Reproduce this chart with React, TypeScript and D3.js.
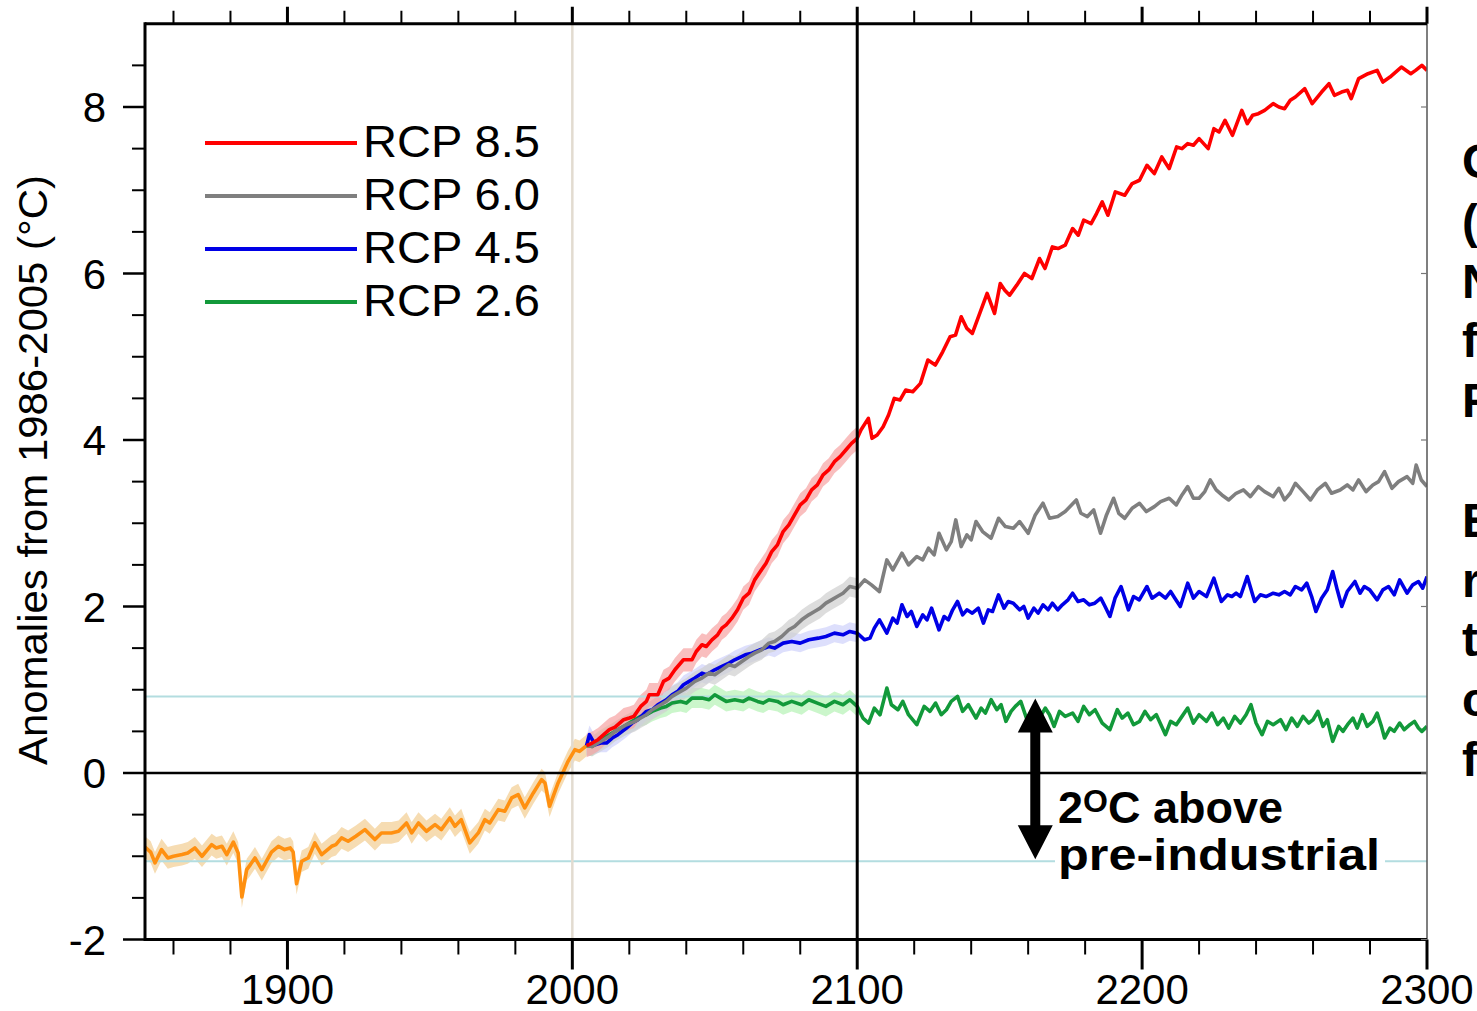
import React from "react";
import * as d3 from "d3";

type Pt = [number, number];

const historical: Pt[] = [
  [1850, -0.89], [1852, -0.95], [1853.5, -1.08], [1855.8, -0.92], [1858, -1.02], [1860, -1.0], [1863, -0.98],
  [1865, -0.96], [1867.5, -0.9], [1870, -1.0], [1873.4, -0.86], [1875, -0.9], [1877, -0.88], [1878.7, -0.98],
  [1881, -0.83], [1882.7, -0.96], [1884, -1.49], [1885.7, -1.16], [1887, -1.1], [1888.6, -1.02], [1891, -1.16],
  [1894.4, -0.95], [1896.8, -0.88], [1899, -0.92], [1901, -0.9], [1902, -0.95], [1903.2, -1.33], [1905, -1.06],
  [1907.3, -1.02], [1909.6, -0.84], [1912, -0.98], [1915.5, -0.88], [1917, -0.86], [1919, -0.78], [1921.3, -0.82],
  [1924, -0.76], [1927.2, -0.68], [1930.7, -0.8], [1933, -0.72], [1936.5, -0.72], [1939, -0.7], [1941.8, -0.6],
  [1943.6, -0.72], [1946, -0.6], [1948.8, -0.7], [1951.8, -0.62], [1954, -0.68], [1957, -0.54], [1958.8, -0.64],
  [1961, -0.56], [1964, -0.84], [1967, -0.72], [1969.3, -0.56], [1971, -0.6], [1974, -0.44], [1976.3, -0.46],
  [1978.7, -0.3], [1981, -0.26], [1983.3, -0.42], [1986.3, -0.24], [1989.2, -0.08], [1990.4, -0.12], [1992, -0.4],
  [1995, -0.12], [1998.5, 0.14], [2000.9, 0.28], [2002.5, 0.26], [2005, 0.33],
];

const rcp85: Pt[] = [
  [2005, 0.33], [2007, 0.36], [2009, 0.4], [2011, 0.46], [2013, 0.52], [2015, 0.55], [2018, 0.64], [2020, 0.66],
  [2021.6, 0.68], [2024, 0.8], [2026, 0.86], [2027, 0.94], [2030, 0.94], [2032, 1.1], [2034, 1.14], [2036, 1.24],
  [2039, 1.36], [2042, 1.36], [2043.5, 1.46], [2045.5, 1.54], [2047, 1.52], [2049, 1.6], [2051, 1.66], [2052.5, 1.74],
  [2054, 1.78], [2056, 1.86], [2058, 1.96], [2060, 2.1], [2062, 2.16], [2064, 2.32], [2066, 2.42], [2068, 2.52],
  [2070, 2.66], [2072, 2.74], [2074, 2.9], [2076, 2.98], [2078, 3.1], [2080, 3.22], [2082, 3.28], [2084, 3.4],
  [2086, 3.46], [2088, 3.58], [2090, 3.64], [2092, 3.74], [2094, 3.8], [2096, 3.88], [2098, 3.96], [2100, 4.02],
  [2101.3, 4.12], [2103.9, 4.26], [2105.2, 4.02], [2107, 4.06], [2109.1, 4.16], [2111, 4.3], [2113, 4.5], [2115, 4.48],
  [2117, 4.6], [2119.5, 4.58], [2122.2, 4.68], [2124.8, 4.96], [2127.4, 4.9], [2130, 5.06], [2132.6, 5.24],
  [2134.5, 5.26], [2136.5, 5.48], [2138.5, 5.34], [2140.4, 5.28], [2143, 5.52], [2145.6, 5.76], [2148.2, 5.52],
  [2150.2, 5.88], [2151.8, 5.8], [2153.5, 5.74], [2156, 5.86], [2158.7, 6.0], [2161.3, 5.94], [2164, 6.18],
  [2165.9, 6.06], [2168.5, 6.32], [2170.5, 6.3], [2173, 6.34], [2175.6, 6.54], [2177.6, 6.46], [2179.5, 6.64],
  [2182.1, 6.6], [2184, 6.72], [2186, 6.86], [2188, 6.7], [2190.6, 6.98], [2193.9, 6.94], [2196.5, 7.08],
  [2199.1, 7.12], [2201.7, 7.3], [2204.3, 7.2], [2206.9, 7.4], [2209.5, 7.26], [2212.1, 7.52], [2214, 7.5],
  [2216, 7.56], [2218, 7.54], [2220, 7.62], [2223.2, 7.5], [2225.2, 7.74], [2227, 7.7], [2229.1, 7.84],
  [2231.7, 7.66], [2235, 7.96], [2236.9, 7.8], [2238.8, 7.9], [2240.8, 7.92], [2243, 7.96], [2246, 8.04],
  [2248, 8.0], [2250, 7.98], [2252, 8.08], [2253.8, 8.12], [2257.1, 8.22], [2259.7, 8.04], [2263, 8.18],
  [2265.6, 8.28], [2267.5, 8.14], [2270, 8.18], [2272.1, 8.2], [2273.4, 8.1], [2276, 8.34], [2279.3, 8.4],
  [2282.5, 8.44], [2284.5, 8.3], [2287, 8.36], [2289, 8.42], [2291, 8.48], [2294.3, 8.4], [2296, 8.44],
  [2298.2, 8.5], [2300, 8.44],
];

const rcp60: Pt[] = [
  [2005, 0.33], [2007, 0.32], [2009, 0.36], [2011, 0.4], [2013, 0.44], [2015, 0.5], [2017, 0.54], [2019, 0.58],
  [2022, 0.62], [2024, 0.66], [2026, 0.7], [2028, 0.76], [2031, 0.82], [2033, 0.86], [2035, 0.92], [2038, 0.98],
  [2040, 1.02], [2043, 1.1], [2045.5, 1.14], [2048, 1.2], [2050, 1.18], [2052.5, 1.24], [2055, 1.3], [2057, 1.28],
  [2059.5, 1.34], [2062, 1.4], [2064, 1.44], [2066.5, 1.48], [2069, 1.56], [2071, 1.58], [2073.5, 1.64],
  [2076, 1.72], [2078, 1.76], [2080.5, 1.84], [2083, 1.9], [2085, 1.94], [2087, 1.98], [2089, 2.04], [2091, 2.08],
  [2093, 2.12], [2095, 2.16], [2097.4, 2.24], [2100, 2.22], [2102.6, 2.32], [2105, 2.26], [2107.8, 2.18],
  [2110.4, 2.56], [2112.5, 2.44], [2115.7, 2.64], [2118, 2.5], [2120.9, 2.6], [2123, 2.56], [2125, 2.7],
  [2127, 2.62], [2128.7, 2.88], [2131.3, 2.68], [2133, 2.78], [2134.6, 3.04], [2136.5, 2.72], [2138.5, 2.86],
  [2140, 2.8], [2141.7, 3.02], [2144, 2.9], [2147, 2.82], [2149.6, 3.06], [2152, 2.96], [2154.8, 2.94],
  [2157, 3.02], [2160, 2.88], [2162.5, 3.1], [2165.2, 3.24], [2167.5, 3.06], [2170.4, 3.08], [2173, 3.14],
  [2176.9, 3.28], [2178.5, 3.12], [2180.8, 3.08], [2183, 3.16], [2185.4, 2.88], [2187.5, 3.1], [2190, 3.3],
  [2191.8, 3.12], [2193.9, 3.06], [2196.5, 3.18], [2199.1, 3.24], [2201.5, 3.14], [2204.3, 3.2], [2206.5, 3.26],
  [2209.5, 3.3], [2212, 3.22], [2214, 3.34], [2216, 3.44], [2218, 3.3], [2220, 3.3], [2222, 3.38], [2223.9, 3.52],
  [2226, 3.4], [2228, 3.34], [2230.4, 3.28], [2233, 3.36], [2235.6, 3.4], [2238, 3.32], [2240.8, 3.44],
  [2243, 3.38], [2246, 3.32], [2248, 3.42], [2250, 3.28], [2252, 3.36], [2253.8, 3.48], [2256.5, 3.38],
  [2259.1, 3.28], [2261.5, 3.4], [2264.3, 3.48], [2266.5, 3.36], [2269.5, 3.4], [2272, 3.46], [2274, 3.4],
  [2276, 3.52], [2278.6, 3.38], [2281, 3.46], [2283, 3.5], [2285.1, 3.62], [2287.7, 3.42], [2290, 3.5],
  [2293, 3.56], [2295, 3.48], [2296.2, 3.7], [2298, 3.52], [2300, 3.44],
];

const rcp45: Pt[] = [
  [2005, 0.33], [2006, 0.46], [2008, 0.34], [2010, 0.36], [2012, 0.36], [2014, 0.42], [2016, 0.46], [2019, 0.54],
  [2021, 0.6], [2023, 0.64], [2026, 0.74], [2028, 0.76], [2030, 0.82], [2033, 0.88], [2035, 0.94], [2037, 0.98],
  [2039, 1.06], [2041, 1.1], [2043, 1.14], [2045.5, 1.2], [2047, 1.18], [2050, 1.24], [2052.5, 1.28], [2055, 1.32],
  [2057, 1.36], [2060.7, 1.42], [2063, 1.44], [2066, 1.48], [2069, 1.52], [2071, 1.5], [2074, 1.56], [2077, 1.58],
  [2080, 1.56], [2083, 1.6], [2086.3, 1.62], [2089, 1.64], [2092, 1.68], [2095, 1.66], [2097.4, 1.7], [2100, 1.68],
  [2102.6, 1.6], [2104.5, 1.62], [2106, 1.74], [2107.8, 1.84], [2110.4, 1.68], [2112.5, 1.86], [2114, 1.8],
  [2115.7, 2.02], [2117.5, 1.88], [2119, 1.94], [2120.9, 1.76], [2123, 1.9], [2124.5, 1.84], [2126.1, 1.98],
  [2128.7, 1.72], [2130.5, 1.88], [2132, 1.84], [2133.5, 1.96], [2135.2, 2.06], [2137, 1.9], [2138.5, 1.96],
  [2140.4, 1.92], [2142.5, 1.98], [2144.3, 1.8], [2146, 1.96], [2147.5, 1.94], [2149.6, 2.14], [2151.5, 1.98],
  [2153, 2.06], [2154.8, 2.04], [2157, 1.96], [2158.5, 2.0], [2160, 1.86], [2162, 1.98], [2163.5, 1.92],
  [2165.2, 2.02], [2167, 1.96], [2168.5, 2.04], [2170.4, 1.96], [2172, 2.02], [2174, 2.08], [2175.6, 2.16],
  [2177.5, 2.06], [2179.5, 2.08], [2181.5, 2.02], [2183.4, 2.04], [2185.5, 2.1], [2187, 2.0], [2188.7, 1.88],
  [2190.5, 2.1], [2192.6, 2.24], [2195.2, 1.96], [2197, 2.12], [2199, 2.08], [2201.7, 2.24], [2203.5, 2.1],
  [2206, 2.16], [2208.2, 2.1], [2210, 2.18], [2211.5, 2.1], [2213.4, 2.0], [2216, 2.28], [2218, 2.1], [2220, 2.18],
  [2222.6, 2.12], [2225.2, 2.34], [2227.8, 2.06], [2230, 2.14], [2231.5, 2.12], [2233, 2.16], [2234.5, 2.12],
  [2236.9, 2.36], [2239.5, 2.06], [2241.5, 2.14], [2243.5, 2.12], [2246, 2.16], [2248, 2.14], [2250, 2.18],
  [2252, 2.14], [2253.8, 2.24], [2256, 2.2], [2257.8, 2.28], [2259.5, 2.12], [2261, 1.94], [2263, 2.1],
  [2265, 2.2], [2266.9, 2.42], [2268.5, 2.2], [2270.1, 2.0], [2272, 2.18], [2274.7, 2.3], [2276.5, 2.16],
  [2278, 2.24], [2279.9, 2.2], [2282.5, 2.08], [2284.5, 2.2], [2286.5, 2.24], [2288.5, 2.14], [2290.4, 2.32],
  [2293, 2.16], [2295, 2.26], [2297, 2.3], [2298.5, 2.22], [2300, 2.36],
];

const rcp26: Pt[] = [
  [2005, 0.33], [2007, 0.32], [2009, 0.38], [2011, 0.42], [2013, 0.46], [2015, 0.5], [2017, 0.54], [2019, 0.58],
  [2021, 0.62], [2024, 0.68], [2026, 0.7], [2028, 0.74], [2031, 0.78], [2033, 0.8], [2035, 0.84], [2038, 0.86],
  [2040, 0.84], [2042, 0.9], [2045.5, 0.9], [2048, 0.88], [2050, 0.94], [2052, 0.9], [2054, 0.86], [2057, 0.88],
  [2060, 0.86], [2062, 0.9], [2065, 0.86], [2067, 0.84], [2069, 0.88], [2072, 0.86], [2074, 0.82], [2077, 0.86],
  [2080.5, 0.82], [2083, 0.88], [2086, 0.84], [2089, 0.8], [2092, 0.86], [2095, 0.82], [2097.4, 0.88], [2100, 0.8],
  [2102, 0.66], [2104, 0.6], [2106, 0.78], [2108, 0.7], [2110.4, 1.02], [2112, 0.82], [2114.3, 0.76], [2116, 0.86],
  [2118, 0.7], [2120.9, 0.58], [2123.5, 0.8], [2125.5, 0.74], [2127.5, 0.84], [2129.5, 0.7], [2131.3, 0.76],
  [2133, 0.86], [2135.2, 0.92], [2137, 0.74], [2139, 0.82], [2141.7, 0.66], [2143.5, 0.78], [2145, 0.72],
  [2147, 0.88], [2149, 0.76], [2150.5, 0.82], [2152.2, 0.62], [2154, 0.74], [2155.5, 0.8], [2157.4, 0.86],
  [2160, 0.6], [2162, 0.72], [2164, 0.66], [2166, 0.78], [2167.5, 0.7], [2169.1, 0.56], [2171, 0.74], [2173, 0.68],
  [2175.6, 0.72], [2177.5, 0.62], [2179.5, 0.8], [2181.5, 0.7], [2183.5, 0.76], [2186, 0.6], [2188.7, 0.52],
  [2191.3, 0.76], [2193, 0.66], [2195, 0.72], [2197, 0.58], [2199.1, 0.62], [2201, 0.74], [2203, 0.64], [2205, 0.7],
  [2208.2, 0.46], [2210, 0.62], [2212, 0.58], [2214, 0.68], [2216, 0.78], [2218, 0.6], [2220, 0.7], [2222.6, 0.62],
  [2224.5, 0.72], [2226.5, 0.58], [2228.5, 0.66], [2230.4, 0.54], [2232.5, 0.68], [2234.5, 0.6], [2236.5, 0.7],
  [2238.2, 0.82], [2240, 0.6], [2242.1, 0.46], [2244, 0.62], [2246, 0.58], [2248.6, 0.64], [2250.5, 0.52],
  [2252.5, 0.66], [2254.5, 0.56], [2256.5, 0.68], [2258.5, 0.6], [2260, 0.64], [2261.7, 0.74], [2263.5, 0.56],
  [2265, 0.64], [2266.9, 0.38], [2269, 0.56], [2270.5, 0.5], [2272.1, 0.58], [2274, 0.66], [2275.5, 0.54],
  [2277.3, 0.7], [2279, 0.56], [2281, 0.62], [2282.5, 0.72], [2284, 0.56], [2285.1, 0.42], [2287, 0.54],
  [2288.5, 0.5], [2290.4, 0.6], [2292, 0.52], [2294, 0.58], [2295.6, 0.62], [2297, 0.54], [2298.2, 0.5],
  [2300, 0.56],
];

// uncertainty half-widths (°C): historical, RCP8.5, RCP6.0, RCP4.5, RCP2.6
const bandHalfWidths = [0.13, 0.14, 0.12, 0.11, 0.12];
const bandEndYear = 2100;

const xTickLabels = [1900, 2000, 2100, 2200, 2300];
const yTickLabels = [-2, 0, 2, 4, 6, 8];
const legendLabels = ["RCP 8.5", "RCP 6.0", "RCP 4.5", "RCP 2.6"];
const yAxisTitle = "Anomalies from 1986-2005 (°C)";
const twoDegreeBounds = [-1.06, 0.92];
const arrowYear = 2162.5;
const sideLetters = ["C", "(", "N", "f", "F", "", "E", "r", "t", "c", "f"];

const FONT = "'Liberation Sans', Arial, Helvetica, sans-serif";

export default function App() {
  const left = 145, right = 1427, top = 23.75, bottom = 939.5;
  const x = d3.scaleLinear().domain([1850, 2300]).range([left, right]);
  const y = d3.scaleLinear().domain([-2, 9]).range([bottom, top]);

  const line = d3.line<Pt>().x((d) => x(d[0])).y((d) => y(d[1]));
  const band = (data: Pt[], w: number) =>
    d3.area<Pt>().x((d) => x(d[0])).y0((d) => y(d[1] - w)).y1((d) => y(d[1] + w))(
      data.filter((d) => d[0] <= bandEndYear)
    ) || "";

  const series = [
    { data: rcp85, color: "#ff0000", band: "#f7a3a3" },
    { data: rcp60, color: "#7f7f7f", band: "#cfcfcf" },
    { data: rcp45, color: "#0000e6", band: "#cfd2fb" },
    { data: rcp26, color: "#12993a", band: "#b5f2b5" },
  ];

  const xMinor = d3.range(1860, 2301, 20).filter((v) => v % 100 !== 0);
  const xMajor = d3.range(1900, 2301, 100);
  const yMinor = d3.range(-1.5, 9, 0.5).filter((v) => Math.abs(v % 2) > 1e-9);
  const yMajor = yTickLabels;

  const ax = x(arrowYear);
  const aTop = y(twoDegreeBounds[1]) + 2;
  const aBot = y(twoDegreeBounds[0]) - 2;
  const headL = 34, headW = 17.5, shaftW = 5;
  const arrowPath = [
    `M${ax},${aTop}`,
    `L${ax + headW},${aTop + headL}`,
    `L${ax + shaftW},${aTop + headL}`,
    `L${ax + shaftW},${aBot - headL}`,
    `L${ax + headW},${aBot - headL}`,
    `L${ax},${aBot}`,
    `L${ax - headW},${aBot - headL}`,
    `L${ax - shaftW},${aBot - headL}`,
    `L${ax - shaftW},${aTop + headL}`,
    `L${ax - headW},${aTop + headL}`,
    "Z",
  ].join(" ");

  return (
    <svg
      width={1477}
      height={1011}
      style={{ position: "fixed", left: 0, top: 0, background: "#fff" }}
      fontFamily={FONT}
    >
      <rect x={0} y={0} width={1477} height={1011} fill="#fff" />
      <defs>
        <clipPath id="plot">
          <rect x={left} y={top} width={right - left} height={bottom - top} />
        </clipPath>
      </defs>

      <g clipPath="url(#plot)">
        <path d={band(historical, bandHalfWidths[0])} fill="#f5d6a4" opacity={0.85} />
        {series
          .slice()
          .reverse()
          .map((s, i) => (
            <path key={"b" + i} d={band(s.data, bandHalfWidths[4 - i])} fill={s.band} opacity={0.7} />
          ))}

        {twoDegreeBounds.map((v) => (
          <line key={v} x1={left} x2={right} y1={y(v)} y2={y(v)} stroke="#b3dde0" strokeWidth={2} />
        ))}
        <line x1={x(2000)} x2={x(2000)} y1={top} y2={bottom} stroke="#e2dbd0" strokeWidth={2.5} />

        <path d={line(historical) || ""} fill="none" stroke="#ff9010" strokeWidth={3.6} strokeLinejoin="round" />
        {series
          .slice()
          .reverse()
          .map((s, i) => (
            <path key={"l" + i} d={line(s.data) || ""} fill="none" stroke={s.color} strokeWidth={3.6} strokeLinejoin="round" />
          ))}

        <line x1={left} x2={right} y1={y(0)} y2={y(0)} stroke="#000" strokeWidth={2.5} />
        <line x1={x(2100)} x2={x(2100)} y1={top} y2={bottom} stroke="#000" strokeWidth={3} />
      </g>

      <line x1={right} x2={right} y1={top} y2={bottom} stroke="#555" strokeWidth={1.5} />
      <line x1={left} x2={right} y1={top} y2={top} stroke="#000" strokeWidth={3} />
      <line x1={left} x2={right} y1={bottom} y2={bottom} stroke="#000" strokeWidth={3} />
      <line x1={left} x2={left} y1={top - 1.5} y2={bottom + 1.5} stroke="#000" strokeWidth={3} />

      {xMinor.map((v) => (
        <g key={"xm" + v} stroke="#000" strokeWidth={2}>
          <line x1={x(v)} x2={x(v)} y1={bottom} y2={bottom + 15} />
          <line x1={x(v)} x2={x(v)} y1={top} y2={top - 13} />
        </g>
      ))}
      {xMajor.map((v) => (
        <g key={"xM" + v} stroke="#000" strokeWidth={3}>
          <line x1={x(v)} x2={x(v)} y1={bottom} y2={bottom + 30} />
          <line x1={x(v)} x2={x(v)} y1={top} y2={top - 17} />
        </g>
      ))}
      {xTickLabels.map((v) => (
        <text key={"xl" + v} x={x(v)} y={1004} fontSize={42} textAnchor="middle" fill="#000">
          {v}
        </text>
      ))}

      {yMinor.map((v) => (
        <line key={"ym" + v} x1={left - 13} x2={left} y1={y(v)} y2={y(v)} stroke="#000" strokeWidth={2} />
      ))}
      {yMajor.map((v) => (
        <line key={"yM" + v} x1={left - 22} x2={left} y1={y(v)} y2={y(v)} stroke="#000" strokeWidth={2.5} />
      ))}
      {yMajor.map((v) => (
        <line key={"yr" + v} x1={right - 6} x2={right} y1={y(v)} y2={y(v)} stroke="#777" strokeWidth={1.2} />
      ))}
      {yTickLabels.map((v) => (
        <text key={"yl" + v} x={106} y={y(v) + 15} fontSize={42} textAnchor="end" fill="#000">
          {v}
        </text>
      ))}
      <text transform={`translate(47,470) rotate(-90)`} fontSize={41} textAnchor="middle" fill="#000"
        textLength={590} lengthAdjust="spacingAndGlyphs">
        {yAxisTitle}
      </text>

      {series.map((s, i) => (
        <g key={"lg" + i}>
          <line x1={205} x2={357} y1={143 + i * 53} y2={143 + i * 53} stroke={s.color} strokeWidth={4} />
          <text x={363} y={157 + i * 53} fontSize={45} fill="#000" textLength={177} lengthAdjust="spacingAndGlyphs">
            {legendLabels[i]}
          </text>
        </g>
      ))}

      <rect x={1055} y={784} width={330} height={97} fill="#fff" />
      <path d={arrowPath} fill="#000" />
      <text x={1058} y={823} fontSize={45} fontWeight="bold" fill="#000">
        2
        <tspan fontSize={32} dy={-11}>O</tspan>
        <tspan dy={11}>C above</tspan>
      </text>
      <text x={1058} y={870} fontSize={45} fontWeight="bold" fill="#000" textLength={322} lengthAdjust="spacingAndGlyphs">
        pre-industrial
      </text>

      {sideLetters.map((c, i) => (
        <text key={"s" + i} x={1462} y={178 + i * 59.8} fontSize={48} fontWeight="bold" fill="#000">
          {c}
        </text>
      ))}
    </svg>
  );
}
